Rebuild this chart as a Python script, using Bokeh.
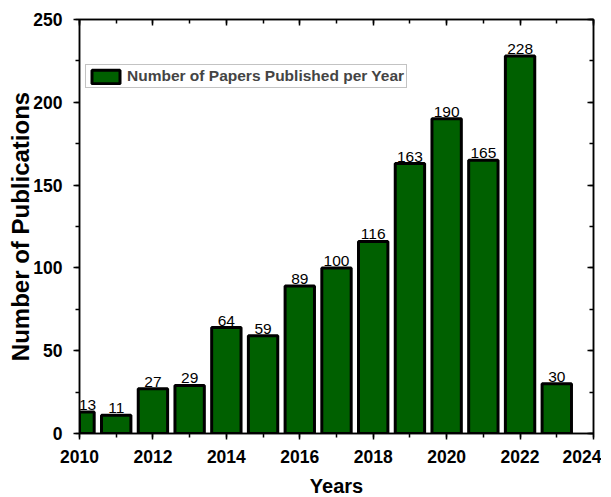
from bokeh.plotting import figure
from bokeh.models import (Range1d, LinearAxis, SingleIntervalTicker, ColumnDataSource,
                          LabelSet, Legend, LegendItem, CustomJSTickFormatter)
from bokeh.core.properties import value
from bokeh.embed import file_html
from bokeh.resources import INLINE

years = [2010, 2011, 2012, 2013, 2014, 2015, 2016, 2017, 2018, 2019, 2020, 2021, 2022, 2023]
papers = [13, 11, 27, 29, 64, 59, 89, 100, 116, 163, 190, 165, 228, 30]
series_name = "Number of Papers Published per Year"
x_title = "Years"
y_title = "Number of Publications"

FONT = "Liberation Sans"
# first label nudged right so it is not clipped at the frame edge
label_shift = [8 if y == years[0] else 0 for y in years]
src = ColumnDataSource(dict(x=years, top=papers, lab=[str(v) for v in papers], dx=label_shift))

p = figure(frame_width=514, frame_height=414, output_backend="svg", toolbar_location=None,
           x_range=Range1d(2010, 2024), y_range=Range1d(0, 250),
           min_border_top=19, min_border_right=8, min_border_left=0, min_border_bottom=0)
p.margin = (0, 0, 0, 4)
p.background_fill_color = "white"
p.border_fill_color = "white"
p.grid.visible = False
p.outline_line_color = "black"
p.outline_line_width = 1.5

bars = p.vbar(x="x", top="top", width=0.8, bottom=0, source=src,
              fill_color="#006000", line_color="black", line_width=3)

labels = LabelSet(x="x", y="top", text="lab", source=src, text_align="center",
                  text_baseline="bottom", y_offset=2, x_offset="dx", text_font=value(FONT),
                  text_font_size="15.5px", text_color="black")
p.add_layout(labels)

p.xaxis.ticker = SingleIntervalTicker(interval=2, num_minor_ticks=2)
p.yaxis.ticker = SingleIntervalTicker(interval=50, num_minor_ticks=2)

for ax in (p.xaxis[0], p.yaxis[0]):
    ax.axis_line_width = 1.5
    ax.major_tick_line_width = 1.5
    ax.minor_tick_line_width = 1.5
    ax.major_tick_out = 6
    ax.major_tick_in = 0
    ax.minor_tick_out = 4
    ax.minor_tick_in = 0
    ax.major_label_text_font = FONT
    ax.major_label_text_font_style = "bold"
    ax.major_label_text_font_size = "17.5px"
    ax.major_label_text_color = "black"
    ax.axis_label_text_font = FONT
    ax.axis_label_text_font_style = "bold"
    ax.axis_label_text_color = "black"

p.xaxis.major_label_standoff = 10
p.xaxis.axis_label = x_title
p.xaxis.axis_label_text_font_size = "20px"
p.xaxis.axis_label_standoff = 9
p.yaxis.major_label_standoff = 11
p.yaxis.axis_label = y_title
p.yaxis.axis_label_text_font_size = "24px"
p.yaxis.axis_label_standoff = -4

top_ax = LinearAxis(ticker=SingleIntervalTicker(interval=2, num_minor_ticks=2),
                    formatter=CustomJSTickFormatter(code="return ''"),
                    major_tick_in=6, major_tick_out=0,
                    minor_tick_in=4, minor_tick_out=0, axis_line_width=1.5,
                    major_tick_line_width=1.5, minor_tick_line_width=1.5,
                    major_label_standoff=0)
right_ax = LinearAxis(ticker=SingleIntervalTicker(interval=50, num_minor_ticks=2),
                      formatter=CustomJSTickFormatter(code="return ''"),
                      major_tick_in=6, major_tick_out=0,
                      minor_tick_in=4, minor_tick_out=0, axis_line_width=1.5,
                      major_tick_line_width=1.5, minor_tick_line_width=1.5,
                      major_label_standoff=0)
p.add_layout(top_ax, "above")
p.add_layout(right_ax, "right")

legend = Legend(items=[LegendItem(label=series_name, renderers=[bars])],
                location=(6, 345), label_text_font=FONT, label_text_font_style="bold",
                label_text_font_size="15.5px", glyph_width=35, glyph_height=17,
                padding=2, margin=0, label_standoff=4, border_line_color="#888888",
                border_line_width=1, label_height=18)
p.add_layout(legend)

open("out.html", "w").write(file_html(p, INLINE))
